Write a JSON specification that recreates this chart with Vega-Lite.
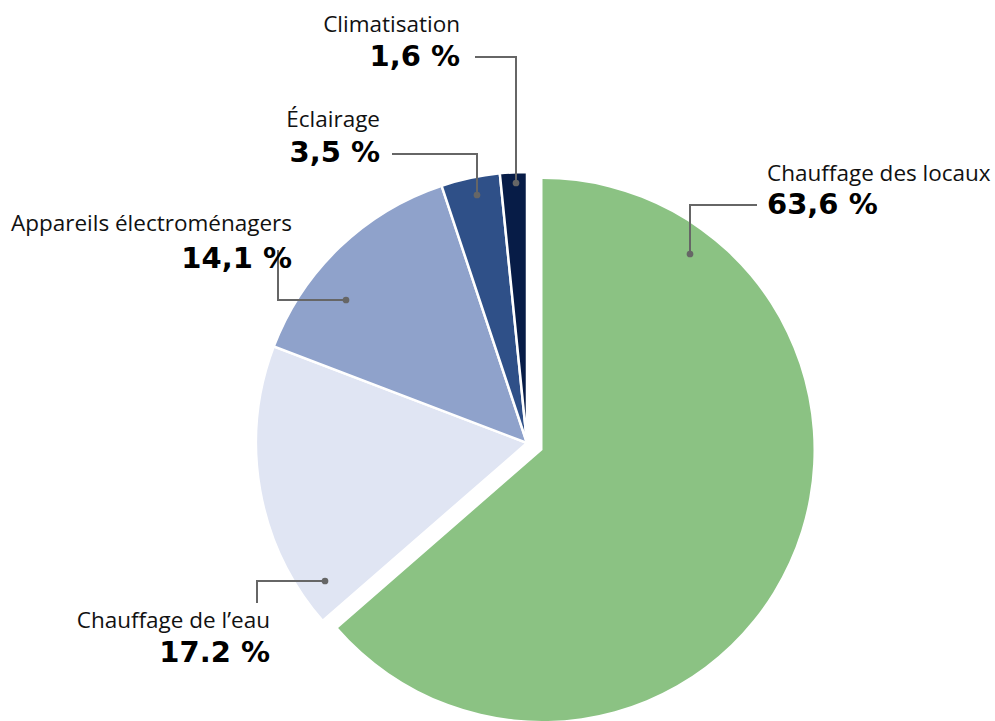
{
  "$schema": "https://vega.github.io/schema/vega-lite/v6.json",
  "autosize": {"type": "fit", "contains": "padding"},
  "width": 995,
  "height": 721,
  "padding": 0,
  "background": "white",
  "config": {"view": {"stroke": null}},
  "datasets": {
    "pie": [
      {"cat": "Chauffage des locaux", "value": 63.6},
      {"cat": "Chauffage de l’eau", "value": 17.2},
      {"cat": "Appareils électroménagers", "value": 14.1},
      {"cat": "Éclairage", "value": 3.5},
      {"cat": "Climatisation", "value": 1.6}
    ],
    "leaders": [
      {"id": "locaux", "seq": 1, "x": 230, "y": 238},
      {"id": "locaux", "seq": 2, "x": 163, "y": 238},
      {"id": "locaux", "seq": 3, "x": 163, "y": 189},
      {"id": "clim", "seq": 1, "x": -52, "y": 386},
      {"id": "clim", "seq": 2, "x": -11, "y": 386},
      {"id": "clim", "seq": 3, "x": -11, "y": 260},
      {"id": "ecl", "seq": 1, "x": -135, "y": 289},
      {"id": "ecl", "seq": 2, "x": -50, "y": 289},
      {"id": "ecl", "seq": 3, "x": -50, "y": 248},
      {"id": "app", "seq": 1, "x": -249, "y": 193},
      {"id": "app", "seq": 2, "x": -249, "y": 143},
      {"id": "app", "seq": 3, "x": -181, "y": 143},
      {"id": "eau", "seq": 1, "x": -270, "y": -160},
      {"id": "eau", "seq": 2, "x": -270, "y": -138},
      {"id": "eau", "seq": 3, "x": -202, "y": -138}
    ],
    "dots": [
      {"id": "locaux", "x": 163, "y": 189},
      {"id": "clim", "x": -11, "y": 260},
      {"id": "ecl", "x": -50, "y": 248},
      {"id": "app", "x": -181, "y": 143},
      {"id": "eau", "x": -202, "y": -138}
    ],
    "labels": [
      {"name": "Chauffage des locaux", "pct": "63,6 %", "side": "left", "x": 240, "yName": 262, "yValue": 229},
      {"name": "Climatisation", "pct": "1,6 %", "side": "right", "x": -67, "yName": 411, "yValue": 377},
      {"name": "Éclairage", "pct": "3,5 %", "side": "right", "x": -147, "yName": 316, "yValue": 281},
      {"name": "Appareils électroménagers", "pct": "14,1 %", "side": "right", "x": -235, "yName": 212, "yValue": 175},
      {"name": "Chauffage de l’eau", "pct": "17.2 %", "side": "right", "x": -257, "yName": -185, "yValue": -219}
    ]
  },
  "layer": [
    {
      "data": {"name": "pie"},
      "mark": {"type": "arc", "outerRadius": 271, "stroke": "white", "strokeWidth": 2.5},
      "encoding": {
        "x": {"datum": 0, "type": "quantitative", "scale": {"domain": [-527, 468], "nice": false, "zero": false}, "axis": null},
        "y": {"datum": 0, "type": "quantitative", "scale": {"domain": [-278, 443], "nice": false, "zero": false}, "axis": null},
        "theta": {"field": "value", "type": "quantitative", "stack": true},
        "order": {"field": "value", "sort": "descending"},
        "color": {
          "field": "cat", "type": "nominal", "legend": null,
          "scale": {
            "domain": ["Chauffage des locaux", "Chauffage de l’eau", "Appareils électroménagers", "Éclairage", "Climatisation"],
            "range": ["#8BC283", "#E0E5F3", "#8FA2CB", "#2F5088", "#071C47"]
          }
        },
        "opacity": {"condition": {"test": "datum.cat === 'Chauffage des locaux'", "value": 0}, "value": 1}
      }
    },
    {
      "data": {"name": "pie"},
      "mark": {"type": "arc", "outerRadius": 271, "xOffset": 15.5, "yOffset": 7},
      "encoding": {
        "x": {"datum": 0, "type": "quantitative"},
        "y": {"datum": 0, "type": "quantitative"},
        "theta": {"field": "value", "type": "quantitative", "stack": true},
        "order": {"field": "value", "sort": "descending"},
        "color": {"field": "cat", "type": "nominal", "legend": null},
        "opacity": {"condition": {"test": "datum.cat === 'Chauffage des locaux'", "value": 1}, "value": 0}
      }
    },
    {
      "data": {"name": "leaders"},
      "mark": {"type": "line", "color": "#666666", "strokeWidth": 2},
      "encoding": {
        "x": {"field": "x", "type": "quantitative"},
        "y": {"field": "y", "type": "quantitative"},
        "detail": {"field": "id"},
        "order": {"field": "seq"}
      }
    },
    {
      "data": {"name": "dots"},
      "mark": {"type": "point", "filled": true, "color": "#666666", "size": 45, "opacity": 1},
      "encoding": {
        "x": {"field": "x", "type": "quantitative"},
        "y": {"field": "y", "type": "quantitative"}
      }
    },
    {
      "data": {"name": "labels"},
      "transform": [{"filter": "datum.side === 'right'"}],
      "mark": {"type": "text", "align": "right", "baseline": "alphabetic", "font": "Open Sans", "fontSize": 22.5, "color": "#111111"},
      "encoding": {
        "x": {"field": "x", "type": "quantitative"},
        "y": {"field": "yName", "type": "quantitative"},
        "text": {"field": "name"}
      }
    },
    {
      "data": {"name": "labels"},
      "transform": [{"filter": "datum.side === 'left'"}],
      "mark": {"type": "text", "align": "left", "baseline": "alphabetic", "font": "Open Sans", "fontSize": 22.5, "color": "#111111"},
      "encoding": {
        "x": {"field": "x", "type": "quantitative"},
        "y": {"field": "yName", "type": "quantitative"},
        "text": {"field": "name"}
      }
    },
    {
      "data": {"name": "labels"},
      "transform": [{"filter": "datum.side === 'right'"}],
      "mark": {"type": "text", "align": "right", "baseline": "alphabetic", "font": "DejaVu Sans", "fontWeight": "bold", "fontSize": 29, "color": "#000000"},
      "encoding": {
        "x": {"field": "x", "type": "quantitative"},
        "y": {"field": "yValue", "type": "quantitative"},
        "text": {"field": "pct"}
      }
    },
    {
      "data": {"name": "labels"},
      "transform": [{"filter": "datum.side === 'left'"}],
      "mark": {"type": "text", "align": "left", "baseline": "alphabetic", "font": "DejaVu Sans", "fontWeight": "bold", "fontSize": 29, "color": "#000000"},
      "encoding": {
        "x": {"field": "x", "type": "quantitative"},
        "y": {"field": "yValue", "type": "quantitative"},
        "text": {"field": "pct"}
      }
    }
  ]
}
